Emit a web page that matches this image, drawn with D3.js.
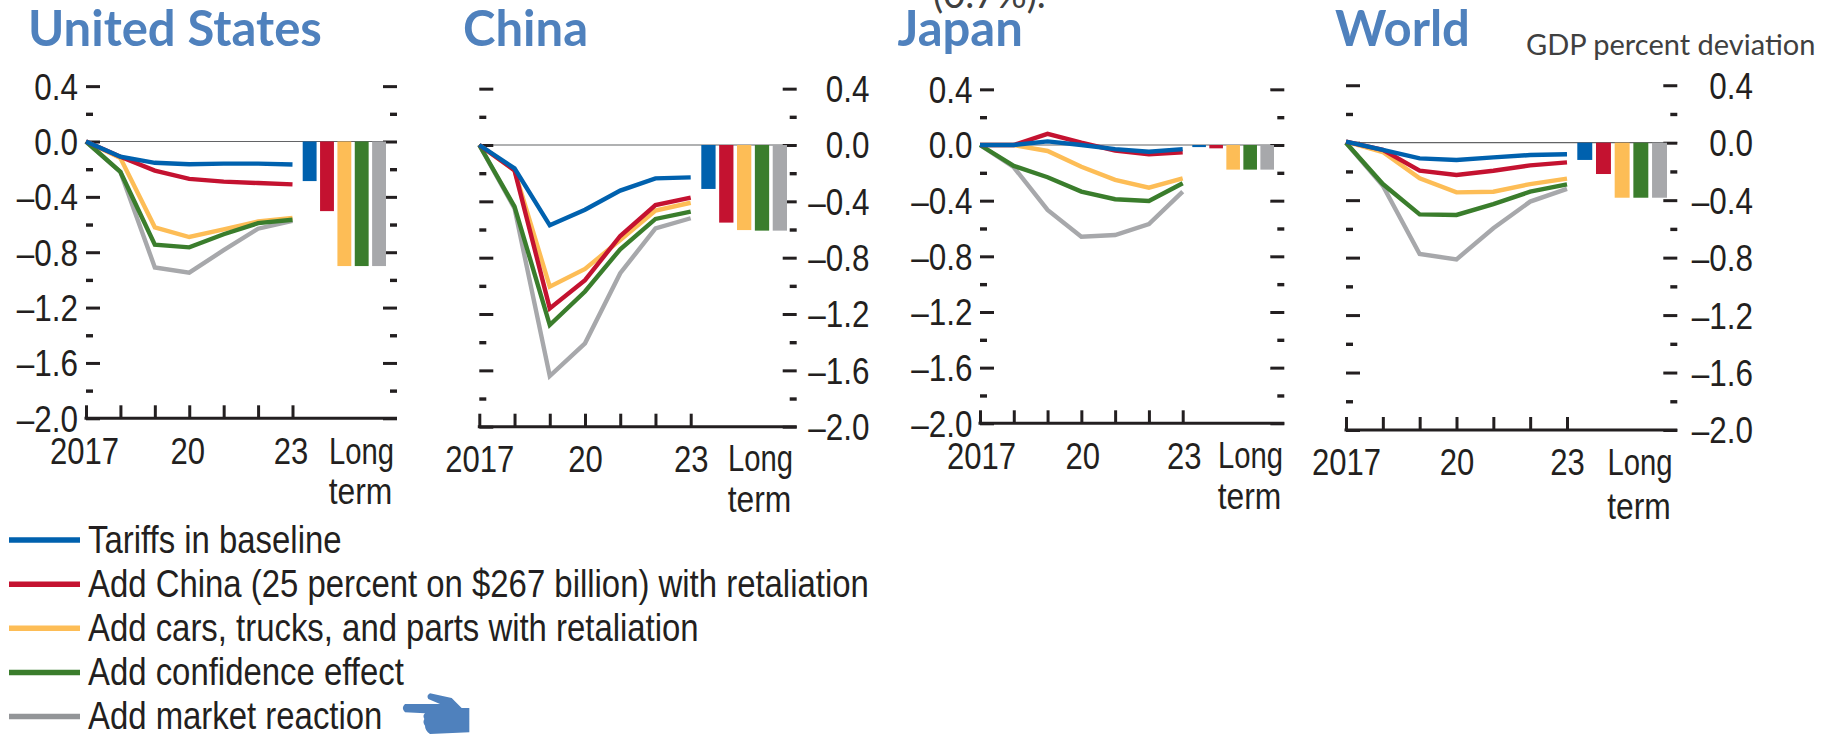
<!DOCTYPE html>
<html>
<head>
<meta charset="utf-8">
<script src="https://cdnjs.cloudflare.com/ajax/libs/d3/7.8.5/d3.min.js"></script>
<style>
  html, body { margin: 0; padding: 0; background: #fff; overflow: hidden; }
  svg { display: block; }
  text { fill: #231f20; font-family: "Liberation Sans", Arial, sans-serif; }
  .tick text, .axisText { font-size: 37px; transform-box: fill-box; }
  .yLabels .tick text { transform: scaleX(0.85); transform-origin: 100% 50%; }
  .xLabels .tick text { transform: scaleX(0.84); transform-origin: 50% 50%; }
  .longText { transform: scaleX(0.79); transform-origin: 50% 50%; }
  .termText { transform: scaleX(0.86); transform-origin: 50% 50%; }
  .legendText { font-size: 38px; transform-box: fill-box; transform: scaleX(0.866); transform-origin: 0% 50%; }
  .title { font-family: Lato, sans-serif; font-weight: 700; font-size: 49px; fill: #4f81bd; }
  .note { font-family: Lato, sans-serif; fill: #404040; }
</style>
</head>
<body>
<svg id="chart" width="1836" height="734"></svg>
<script>
// values
const years = [2017, 2018, 2019, 2020, 2021, 2022, 2023];
const seriesNames = ['Tariffs in baseline', 'Add China (25 percent on $267 billion) with retaliation',
  'Add cars, trucks, and parts with retaliation', 'Add confidence effect', 'Add market reaction'];
const seriesColors = ['#0061ae', '#c41230', '#fdbd56', '#3a7d2c', '#a7a8ab'];

const majorTicks = [0.4, 0, -0.4, -0.8, -1.2, -1.6, -2];
const majorLabels = ['0.4', '0.0', '–0.4', '–0.8', '–1.2', '–1.6', '–2.0'];
const minorTicks = [0.2, -0.2, -0.6, -1, -1.4, -1.8];
const xLabels = ['2017', '', '', '20', '', '', '23'];
const longTermLabel = ['Long', 'term'];

const usLines = [
  [0, -0.11, -0.154, -0.164, -0.16, -0.16, -0.166],
  [0, -0.11, -0.21, -0.27, -0.29, -0.30, -0.31],
  [0, -0.12, -0.62, -0.69, -0.635, -0.578, -0.553],
  [0, -0.22, -0.745, -0.765, -0.67, -0.59, -0.565],
  [0, -0.22, -0.91, -0.948, -0.785, -0.63, -0.573]
];
const usBars = [-0.286, -0.503, -0.90, -0.90, -0.90];

const chinaLines = [
  [0, -0.166, -0.57, -0.46, -0.324, -0.237, -0.23],
  [0, -0.18, -1.16, -0.96, -0.646, -0.426, -0.374],
  [0, -0.18, -1.006, -0.88, -0.675, -0.466, -0.41],
  [0, -0.438, -1.278, -1.04, -0.74, -0.525, -0.473],
  [0, -0.45, -1.64, -1.408, -0.91, -0.592, -0.52]
];
const chinaBars = [-0.312, -0.551, -0.604, -0.608, -0.608];

const japanLines = [
  [0, 0, 0.026, 0, -0.03, -0.048, -0.03],
  [0, 0, 0.08, 0.017, -0.04, -0.067, -0.053],
  [0, 0, -0.043, -0.156, -0.25, -0.307, -0.24],
  [0, -0.15, -0.232, -0.335, -0.39, -0.402, -0.275],
  [0, -0.16, -0.467, -0.659, -0.647, -0.568, -0.335]
];
const japanBars = [-0.015, -0.024, -0.177, -0.177, -0.177];

const worldLines = [
  [0.007, -0.05, -0.109, -0.12, -0.102, -0.086, -0.08],
  [0.007, -0.05, -0.195, -0.225, -0.195, -0.158, -0.137],
  [0.007, -0.065, -0.248, -0.346, -0.341, -0.288, -0.25],
  [0, -0.288, -0.499, -0.503, -0.427, -0.341, -0.29],
  [0, -0.30, -0.775, -0.812, -0.596, -0.41, -0.322]
];
const worldBars = [-0.12, -0.218, -0.383, -0.383, -0.383];

// page layout, one entry per panel
const panels = [
  { name: 'United States', lines: usLines, bars: usBars, titleX: 28, titleY: 46, side: 'left',
    x0: 86, x23: 292.5, xEnd: 397, yZero: 141.5, yBot: 418.3, bar0: 302.7, bar1: 386,
    labelEdge: 78, labelDx: -2, longX: 361.5, longY: 464, termY: 504 },
  { name: 'China', lines: chinaLines, bars: chinaBars, titleX: 463, titleY: 46, side: 'right',
    x0: 479.3, x23: 690.7, xEnd: 796.7, yZero: 145, yBot: 426.7, bar0: 701.3, bar1: 787,
    labelEdge: 869.5, labelDx: 0, longX: 760.5, longY: 470.7, termY: 511.7 },
  { name: 'Japan', lines: japanLines, bars: japanBars, titleX: 897.5, titleY: 46, side: 'left',
    x0: 980, x23: 1182.7, xEnd: 1284.3, yZero: 145, yBot: 423.3, bar0: 1192.3, bar1: 1274,
    labelEdge: 972.5, labelDx: 1, longX: 1250.5, longY: 468.3, termY: 509 },
  { name: 'World', lines: worldLines, bars: worldBars, titleX: 1335, titleY: 46, side: 'right',
    x0: 1346, x23: 1567, xEnd: 1677.3, yZero: 142.7, yBot: 430, bar0: 1577.3, bar1: 1667,
    labelEdge: 1753, labelDx: 0, longX: 1640, longY: 475, termY: 519 }
];

const svg = d3.select('#chart');
const ink = '#231f20';

function styleTicks(axisG, width) {
  axisG.select('.domain').remove();
  axisG.selectAll('.tick line').attr('stroke', ink).attr('stroke-width', width);
}

panels.forEach(function(p) {
  const g = svg.append('g').attr('class', 'panel');

  const x = d3.scaleLinear().domain([years[0], years[years.length - 1]]).range([p.x0, p.x23]);
  const y = d3.scaleLinear().domain([0, -2]).range([p.yZero, p.yBot]);
  const band = d3.scaleBand().domain(seriesNames).range([p.bar0, p.bar1]).paddingInner(0.2);

  // zero line goes under everything
  g.append('line').attr('x1', p.x0).attr('x2', p.xEnd)
    .attr('y1', y(0)).attr('y2', y(0))
    .attr('stroke', '#636466').attr('stroke-width', 1.2);

  // left ticks point into the plot, same on the right
  const leftMajor = d3.axisLeft(y).tickValues(majorTicks).tickSize(-14)
    .tickPadding(p.x0 - p.labelEdge)
    .tickFormat(function(d, i) { return p.side == 'left' ? majorLabels[i] : ''; });
  const leftG = g.append('g').attr('class', 'yLabels').attr('transform', `translate(${p.x0},0)`).call(leftMajor);
  styleTicks(leftG, 3);
  leftG.selectAll('text').attr('dy', '.35em');

  const leftMinor = d3.axisLeft(y).tickValues(minorTicks).tickSize(-7).tickFormat('');
  styleTicks(g.append('g').attr('transform', `translate(${p.x0},0)`).call(leftMinor), 3.4);

  const rightMajor = d3.axisRight(y).tickValues(majorTicks).tickSize(-14)
    .tickPadding(p.labelEdge - p.xEnd)
    .tickFormat(function(d, i) { return p.side == 'right' ? majorLabels[i] : ''; });
  const rightG = g.append('g').attr('class', 'yLabels').attr('transform', `translate(${p.xEnd},0)`).call(rightMajor);
  styleTicks(rightG, 3);
  rightG.selectAll('text').attr('text-anchor', 'end').attr('dy', '.35em');

  const rightMinor = d3.axisRight(y).tickValues(minorTicks).tickSize(-7).tickFormat('');
  styleTicks(g.append('g').attr('transform', `translate(${p.xEnd},0)`).call(rightMinor), 3.4);

  // bottom axis
  const xAxis = d3.axisBottom(x).tickValues(years).tickSize(-13).tickPadding(19)
    .tickFormat(function(d, i) { return xLabels[i]; });
  const xG = g.append('g').attr('class', 'xLabels').attr('transform', `translate(0,${p.yBot})`).call(xAxis);
  styleTicks(xG, 3);
  xG.selectAll('.tick text').attr('dx', p.labelDx);

  g.append('line').attr('x1', p.x0 - 1.5).attr('x2', p.xEnd)
    .attr('y1', p.yBot).attr('y2', p.yBot)
    .attr('stroke', ink).attr('stroke-width', 3);

  // long term bars
  g.selectAll('.bar').data(p.bars).enter().append('rect')
    .attr('class', 'bar')
    .attr('x', function(d, i) { return band(seriesNames[i]); })
    .attr('y', y(0))
    .attr('width', band.bandwidth())
    .attr('height', function(d) { return y(d) - y(0); })
    .attr('fill', function(d, i) { return seriesColors[i]; });

  // grey first, blue ends up on top
  const line = d3.line()
    .x(function(d, i) { return x(years[i]); })
    .y(function(d) { return y(d); });
  [4, 2, 3, 1, 0].forEach(function(s) {
    g.append('path').datum(p.lines[s])
      .attr('d', line)
      .attr('fill', 'none')
      .attr('stroke', seriesColors[s])
      .attr('stroke-width', 4.4);
  });

  g.append('text').attr('class', 'axisText longText')
    .attr('x', p.longX).attr('y', p.longY).attr('text-anchor', 'middle').text(longTermLabel[0]);
  g.append('text').attr('class', 'axisText termText')
    .attr('x', p.longX - 1).attr('y', p.termY).attr('text-anchor', 'middle').text(longTermLabel[1]);

  g.append('text').attr('class', 'title').attr('x', p.titleX).attr('y', p.titleY).text(p.name);
});

svg.append('text').attr('class', 'note').attr('x', 1526).attr('y', 55)
  .style('font-size', '29px').text('GDP percent deviation');
// cut off by the top edge in the original too
svg.append('text').attr('class', 'note').attr('x', 933).attr('y', 8)
  .style('font-size', '38px').text('(0.7%).');

// legend
const rows = d3.scalePoint().domain(seriesNames).range([540, 716.5]);
const legend = svg.append('g').attr('class', 'legend');
legend.selectAll('line').data(seriesNames).enter().append('line')
  .attr('x1', 9).attr('x2', 80)
  .attr('y1', function(d) { return rows(d); })
  .attr('y2', function(d) { return rows(d); })
  .attr('stroke', function(d, i) { return i == 4 ? '#939598' : seriesColors[i]; })
  .attr('stroke-width', 5.5);
legend.selectAll('text').data(seriesNames).enter().append('text')
  .attr('class', 'legendText')
  .attr('x', 88)
  .attr('y', function(d) { return rows(d) + 13; })
  .text(function(d) { return d; });

// pointing hand next to the last legend row
svg.append('path')
  .attr('transform', 'translate(390,684) scale(0.3333)')
  .attr('fill', '#4f81bd')
  .attr('d', 'M45 60 L150 60 L115 45 Q108 35 120 28 L185 42 L215 72 L238 72 L238 145 L120 150 Q105 140 105 125 Q97 115 103 105 Q97 95 105 88 L45 85 Q32 72 45 60 Z');
</script>
</body>
</html>
